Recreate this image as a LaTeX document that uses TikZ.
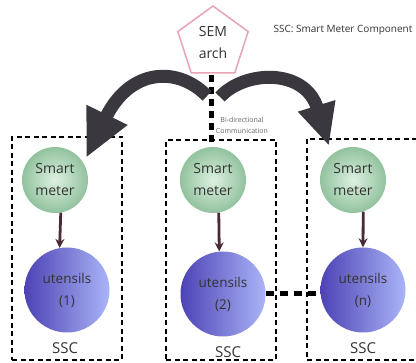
\documentclass[tikz,border=0pt]{standalone}
\usepackage{fontspec}
\setmainfont{Open Sans}
\usetikzlibrary{shapes.geometric,arrows.meta}
\definecolor{txt}{HTML}{333333}
\definecolor{pinkline}{HTML}{E8A3B6}
\definecolor{bigarrow}{HTML}{3A383E}
\definecolor{smallarrow}{HTML}{4A2A36}
\definecolor{greenin}{HTML}{DDF1E1}
\definecolor{greenout}{HTML}{92C29E}
\definecolor{blueleft}{HTML}{4D43B5}
\definecolor{blueright}{HTML}{AAB4F7}
\tikzset{
  sscbox/.style={draw=black, line width=1.4pt, dash pattern=on 5pt off 3.5pt, rectangle, inner sep=0pt},
  meter/.style={circle, minimum size=66pt, inner sep=0pt, shade, inner color=greenin, outer color=greenout, text=txt, font=\fontsize{14}{22}\selectfont, align=center},
  utensil/.style={circle, minimum size=85pt, inner sep=0pt, shade, shading angle=90, left color=blueleft, right color=blueright, text=txt, font=\fontsize{13.5}{22}\selectfont, align=center},
  ssclabel/.style={text=txt, font=\fontsize{15}{18}\selectfont},
  bigarr/.style={draw=bigarrow, line width=13pt, line cap=butt},
  smallarr/.style={draw=smallarrow, line width=2.8pt, -{Stealth[length=9pt,width=9pt]}},
  vdash/.style={draw=black, line width=5pt, dash pattern=on 7pt off 5pt}
}
\begin{document}
\begin{tikzpicture}[x=1pt,y=-1pt]
\path[use as bounding box] (0,0) rectangle (416,363);
\clip (0,0) rectangle (416,363);
\fill[white] (0,0) rectangle (416,363);

% boxes
\node[sscbox, minimum width=110pt, minimum height=223pt] (box1) at (67,248.5) {};
\node[sscbox, minimum width=110pt, minimum height=220pt] (box2) at (221,250) {};
\node[sscbox, minimum width=123pt, minimum height=221pt] (box3) at (368.5,249.5) {};

% pentagon
\node[regular polygon, regular polygon sides=5, minimum size=74pt, inner sep=0pt, draw=pinkline, line width=1.5pt, fill=white, text=txt, font=\fontsize{14}{22}\selectfont, align=center] (sem) at (213,43) {SEM\\arch};

% legend
\node[text=txt, font=\fontsize{10}{12}\selectfont] (legend) at (343,30) {SSC: Smart Meter Component};

% vertical thick dashed line
\coordinate (vtop) at (211,75);
\coordinate (vbot) at (211,147);
\draw[vdash] (vtop) -- (vbot);

\node[text=black!60, font=\fontsize{7}{11}\selectfont, align=center] (bidir) at (242,125) {Bi-directional\\Communication};

% smart meters
\node[meter] (sm1) at (55,180) {Smart\\meter};
\node[meter] (sm2) at (213,180) {Smart\\meter};
\node[meter] (sm3) at (353,180) {Smart\\meter};

% utensils
\node[utensil] (ut1) at (67,290) {utensils\\(1)};
\node[utensil] (ut2) at (223,294) {utensils\\(2)};
\node[utensil] (ut3) at (363,290) {utensils\\(n)};

% SSC labels
\node[ssclabel] (ssc1) at (65,348) {SSC};
\node[ssclabel] (ssc2) at (228,352) {SSC};
\node[ssclabel] (ssc3) at (363,348) {SSC};

% small arrows
\draw[smallarr] (sm1.-80) -- (ut1.100);
\draw[smallarr] (sm2.-80) -- (ut2.95);
\draw[smallarr] (sm3.-72) -- (ut3.90);

% horizontal thick dashed line
\draw[draw=black, line width=5pt, dash pattern=on 8pt off 6pt] (ut2.east) -- (ut2.east -| ut3.west);

% big curved arrows
\coordinate (la) at (207,96);
\coordinate (lt) at (86,158);
\coordinate (ra) at (220,97);
\coordinate (rt) at (329,146);
\draw[bigarr, -{Triangle[length=48pt,width=42pt]}] (la) .. controls (178,66) and (130,68) .. (lt);
\draw[bigarr, -{Triangle[length=42pt,width=36pt]}] (ra) .. controls (245,70) and (305,68) .. (rt);
\end{tikzpicture}
\end{document}
